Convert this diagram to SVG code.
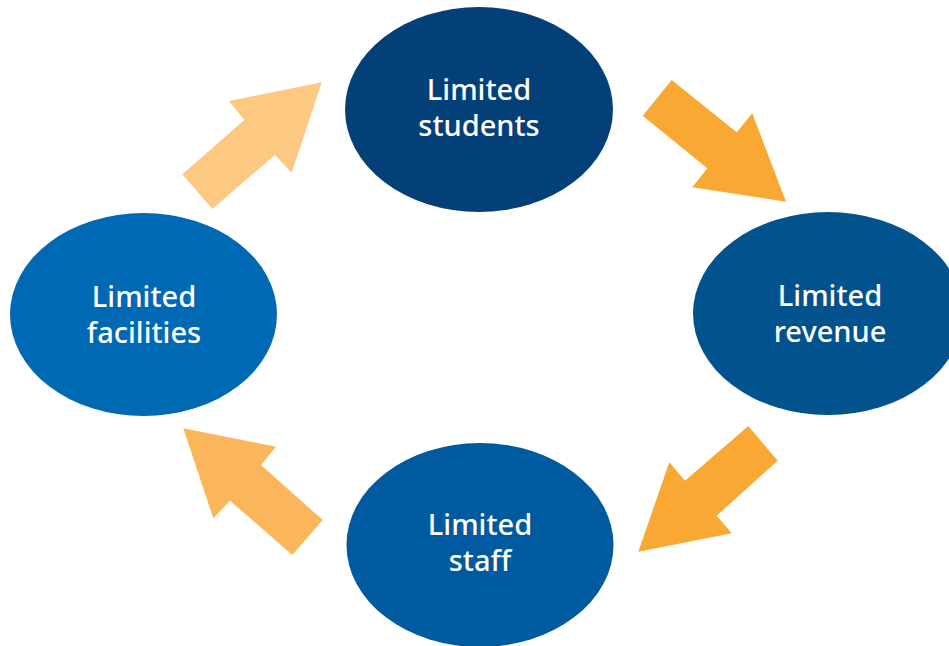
<svg xmlns="http://www.w3.org/2000/svg" width="949" height="646" viewBox="0 0 949 646">
<style>
.lbl{font-family:"Noto Sans","Open Sans","Liberation Sans",sans-serif;font-size:29px;font-weight:500;fill:#ffffff;text-anchor:middle}
</style>
<rect width="949" height="646" fill="#ffffff"/>
<g id="connectors">
<polygon id="a1" fill="#F9A833" points="671.7,80 736.7,132.3 752.3,113.3 786,201.7 692.3,187.3 707.3,168.3 642.7,115.7"/>
<polygon id="a2" fill="#F9A833" points="748.3,426 777.7,460.7 716.7,515.7 731.7,533.3 638.3,551.7 669.3,462.3 685,480.7"/>
<polygon id="a3" fill="#FBB55A" points="183.3,428.3 276,446.7 261,465 322.7,520 292.3,555 230,500.7 213.3,518.3"/>
<polygon id="a4" fill="#FDC882" points="321.7,82.3 291.7,172.7 275,155 212.3,209 182.3,174.3 244.3,120 229,101"/>
</g>
<g id="students">
<ellipse cx="479" cy="109.5" rx="134" ry="102.5" fill="#034078"/>
<text class="lbl" x="479" y="100">Limited</text>
<text class="lbl" x="479" y="136">students</text>
</g>
<g id="revenue">
<ellipse cx="828" cy="313.5" rx="135" ry="101.5" fill="#02528E"/>
<text class="lbl" x="830" y="306">Limited</text>
<text class="lbl" x="830" y="342">revenue</text>
</g>
<g id="staff">
<ellipse cx="480" cy="545" rx="133.5" ry="102" fill="#005AA0"/>
<text class="lbl" x="480" y="535">Limited</text>
<text class="lbl" x="480" y="571">staff</text>
</g>
<g id="facilities">
<ellipse cx="143.5" cy="314.5" rx="133.5" ry="101.5" fill="#0069B4"/>
<text class="lbl" x="144" y="307">Limited</text>
<text class="lbl" x="144" y="343">facilities</text>
</g>
</svg>
